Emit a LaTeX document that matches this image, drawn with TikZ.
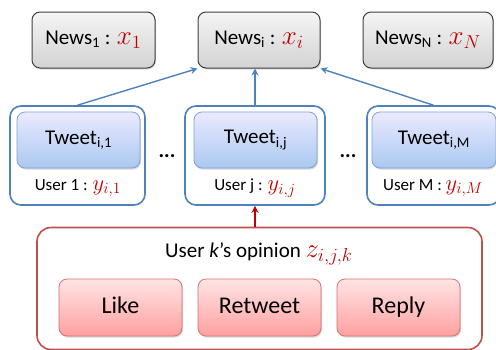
\documentclass[tikz,border=0pt]{standalone}
\usepackage{fontspec}
\usepackage{graphicx}
\setmainfont{Carlito}
\usetikzlibrary{arrows.meta,shadows}
\definecolor{grayb}{HTML}{404040}
\definecolor{blueb}{HTML}{4F81BD}
\definecolor{tweetb}{HTML}{7EA3D4}
\definecolor{redb}{HTML}{C0504D}
\definecolor{mred}{HTML}{C00000}
\definecolor{pinkb}{HTML}{D9706E}
\newcommand{\mv}[1]{\textcolor{mred}{\scalebox{1.3}{$#1$}}}
\tikzset{
  news/.style={draw=grayb, line width=1pt, rounded corners=8pt, top color=gray!8, bottom color=gray!35,
    minimum width=123pt, minimum height=56pt, inner sep=0pt, font=\fontsize{21}{24}\selectfont,
    drop shadow={shadow xshift=1pt, shadow yshift=-1.5pt, opacity=0.3}},
  userbox/.style={draw=blueb, line width=1.6pt, rounded corners=11pt, fill=white,
    minimum width=135pt, minimum height=99pt, inner sep=0pt},
  tweet/.style={draw=tweetb, line width=0.8pt, rounded corners=8pt, top color=blue!8!white, bottom color={rgb,255:red,170;green,200;blue,240},
    minimum width=123pt, minimum height=56pt, inner sep=0pt, font=\fontsize{21}{24}\selectfont,
    drop shadow={shadow xshift=1pt, shadow yshift=-1.5pt, opacity=0.3}},
  ulabel/.style={font=\fontsize{17}{20}\selectfont, inner sep=0pt},
  opbox/.style={draw=redb, line width=1.6pt, rounded corners=14pt, fill=white,
    minimum width=445pt, minimum height=122pt, inner sep=0pt},
  act/.style={draw=pinkb, line width=0.8pt, rounded corners=8pt, top color={rgb,255:red,255;green,228;blue,228}, bottom color={rgb,255:red,255;green,160;blue,160},
    minimum width=123pt, minimum height=57pt, inner sep=0pt, text height=17pt, text depth=5pt, font=\fontsize{24}{28}\selectfont,
    drop shadow={shadow xshift=1pt, shadow yshift=-1.5pt, opacity=0.3}},
  barrow/.style={draw=blueb, line width=1.4pt, -{Stealth[length=7pt,width=7pt]}},
  rarrow/.style={draw=mred, line width=1.4pt, -{Stealth[length=7pt,width=7pt]}},
  dots/.style={font=\fontsize{21}{24}\selectfont\bfseries, inner sep=0pt}
}
\begin{document}
\begin{tikzpicture}[x=1pt,y=-1pt]
\useasboundingbox (0,0) rectangle (496,349);
% news
\node[news] (n1) at (93.5,40) {News\textsubscript{1} : \mv{x_1}};
\node[news, minimum width=122pt] (ni) at (259,40) {News\textsubscript{i} : \mv{x_i}};
\node[news, minimum width=130pt] (nN) at (428,40) {News\textsubscript{N} : \mv{x_N}};
% users
\node[userbox] (u1) at (77.5,155.5) {};
\node[userbox, minimum width=140pt] (uj) at (255,155.5) {};
\node[userbox, minimum width=133pt] (uM) at (433.5,155.5) {};
\node[tweet] (t1) at (78.5,140) {Tweet\textsubscript{i,1}};
\node[tweet] (tj) at (255.5,140) {Tweet\textsubscript{i,j}};
\node[tweet, minimum width=124pt] (tM) at (434,140) {Tweet\textsubscript{i,M}};
\node[ulabel] (l1) at (78,188) {User 1 : \mv{y_{i,1}}};
\node[ulabel] (lj) at (255,188) {User j : \mv{y_{i,j}}};
\node[ulabel] (lM) at (433,188) {User M : \mv{y_{i,M}}};
\node[dots] (d1) at (167,156) {...};
\node[dots] (d2) at (348,156) {...};
% opinion
\node[opbox] (op) at (259.5,288.5) {};
\node[font=\fontsize{21}{24}\selectfont, inner sep=0pt] (opt) at (259,254) {User \textit{k}’s opinion \mv{z_{i,j,k}}};
\node[act] (like) at (120.5,307.5) {Like};
\node[act] (rt) at (259.5,307.5) {Retweet};
\node[act] (rep) at (398.5,307.5) {Reply};
% arrows
\draw[barrow] (u1.north) -- (ni.south west);
\draw[barrow] (uj.north) -- (uj.north |- ni.south);
\draw[barrow] (uM.north) -- (ni.south east);
\draw[rarrow] (uj.south |- op.north) -- (uj.south);
\end{tikzpicture}
\end{document}
